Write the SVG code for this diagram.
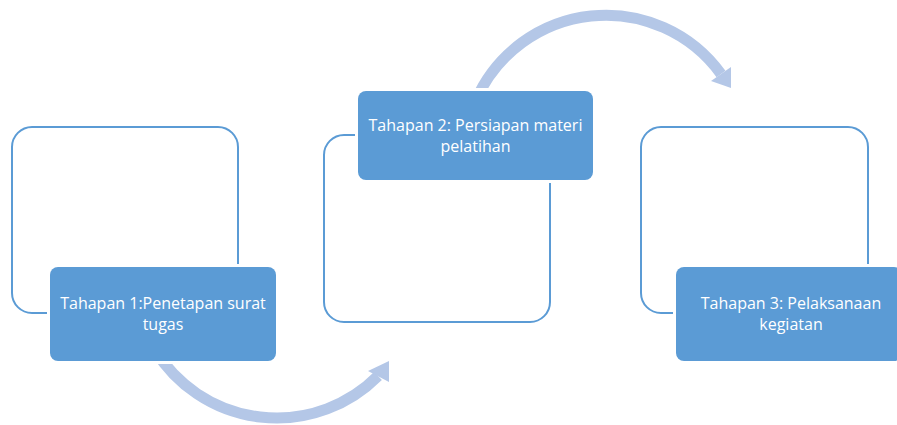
<svg xmlns="http://www.w3.org/2000/svg" width="897" height="425" viewBox="0 0 897 425">
<style>
.outline{fill:none;stroke:#5b9bd5;stroke-width:2}
.box{fill:#5b9bd5;stroke:#ffffff;stroke-width:6;paint-order:stroke}
.lbl{font-family:"Open Sans","Noto Sans",sans-serif;font-size:16px;fill:#ffffff;text-anchor:middle}
.arc{fill:none;stroke:#b4c7e7;stroke-width:11}
.head{fill:#b4c7e7}
</style>
<rect width="897" height="425" fill="#ffffff"/>
<g id="connectors">
<path class="arc" d="M155,350 A143,143 0 0 0 378,376"/>
<polygon class="head" points="389,361 368,371 389,382"/>
<path class="arc" d="M476,100 A142,142 0 0 1 721,74"/>
<polygon class="head" points="731,88 711,81 731,67"/>
</g>
<g id="node1">
<rect class="outline" x="12" y="127" width="226" height="186" rx="20"/>
<rect class="box" x="50" y="267" width="226" height="94" rx="8"/>
<text class="lbl" x="163" y="309">Tahapan 1:Penetapan surat</text>
<text class="lbl" x="163" y="330">tugas</text>
</g>
<g id="node2">
<rect class="outline" x="324" y="135" width="226" height="187" rx="20"/>
<rect class="box" x="358" y="91" width="235" height="89" rx="8"/>
<text class="lbl" x="475.5" y="131">Tahapan 2: Persiapan materi</text>
<text class="lbl" x="475.5" y="152">pelatihan</text>
</g>
<g id="node3">
<rect class="outline" x="641" y="127" width="227" height="186" rx="20"/>
<rect class="box" x="676" y="267" width="226" height="94" rx="8"/>
<text class="lbl" x="791" y="309">Tahapan 3: Pelaksanaan</text>
<text class="lbl" x="791" y="330">kegiatan</text>
</g>
</svg>
